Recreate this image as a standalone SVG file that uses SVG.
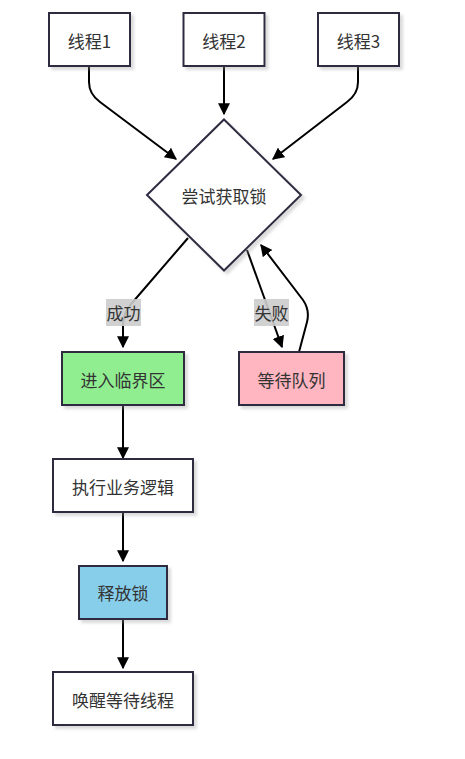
<svg xmlns="http://www.w3.org/2000/svg" width="465" height="759" viewBox="0 0 465 759">
<style>
.node rect,.node polygon{stroke:#2d2b40;stroke-width:2;filter:url(#sh)}
.node text{font-family:"Noto Sans CJK SC","Liberation Sans",sans-serif;font-size:17px;fill:#333;text-anchor:middle;dominant-baseline:central}
.edge{fill:none;stroke:#000;stroke-width:2;marker-end:url(#ah)}
.lbl rect{fill:#cccccc;opacity:0.9}
.lbl text{font-family:"Noto Sans CJK SC","Liberation Sans",sans-serif;font-size:17px;fill:#333;text-anchor:middle;dominant-baseline:central}
</style>
<defs>
<filter id="sh" x="-20%" y="-20%" width="150%" height="150%">
<feDropShadow dx="3" dy="3" stdDeviation="1.5" flood-color="#999" flood-opacity="0.35"/>
</filter>
<marker id="ah" viewBox="0 0 10 10" refX="9" refY="5" markerWidth="6" markerHeight="6" orient="auto" markerUnits="strokeWidth">
<path d="M0,0 L10,5 L0,10 z" fill="#000"/>
</marker>
</defs>
<rect width="465" height="759" fill="#fff"/>
<g id="connectors">
<path class="edge" d="M89,66 L89,82 Q89,94 100,102 L176,159"/>
<path class="edge" d="M224,66 L224,114"/>
<path class="edge" d="M358,66 L358,82 Q358,94 347,102 L273,159"/>
<path class="edge" d="M188,238 L132,303 Q123,313 123,325 L123,347"/>
<path class="edge" d="M247,250 L282,347"/>
<path class="edge" d="M299,352 L307,322 Q310,310 303,300 L261,245"/>
<path class="edge" d="M123,405 L123,458"/>
<path class="edge" d="M123,512 L123,561"/>
<path class="edge" d="M123,619 L123,668"/>
<g class="lbl"><rect x="106" y="299" width="35" height="27"/><text x="123.5" y="312">成功</text></g>
<g class="lbl"><rect x="254" y="299" width="35" height="27"/><text x="271.5" y="312">失败</text></g>
</g>
<g id="t1" class="node"><rect x="49" y="13" width="81" height="53" fill="#fff"/><text x="89.5" y="40">线程1</text></g>
<g id="t2" class="node"><rect x="183.5" y="13" width="81" height="53" fill="#fff"/><text x="224" y="40">线程2</text></g>
<g id="t3" class="node"><rect x="318" y="13" width="81" height="53" fill="#fff"/><text x="358.5" y="40">线程3</text></g>
<g id="lock" class="node"><polygon points="224,119.5 301,195 224,270.5 147,195" fill="#fff"/><text x="224" y="195">尝试获取锁</text></g>
<g id="crit" class="node"><rect x="62" y="352" width="122" height="53" fill="#90EE90"/><text x="123" y="379">进入临界区</text></g>
<g id="queue" class="node"><rect x="239" y="352" width="105" height="53" fill="#FFB6C1"/><text x="291.5" y="379">等待队列</text></g>
<g id="exec" class="node"><rect x="53" y="459" width="140" height="53" fill="#fff"/><text x="123" y="486">执行业务逻辑</text></g>
<g id="release" class="node"><rect x="79" y="566" width="88" height="53" fill="#87CEEB"/><text x="123" y="592.5">释放锁</text></g>
<g id="wake" class="node"><rect x="53" y="672" width="140" height="53" fill="#fff"/><text x="123" y="699">唤醒等待线程</text></g>
</svg>
